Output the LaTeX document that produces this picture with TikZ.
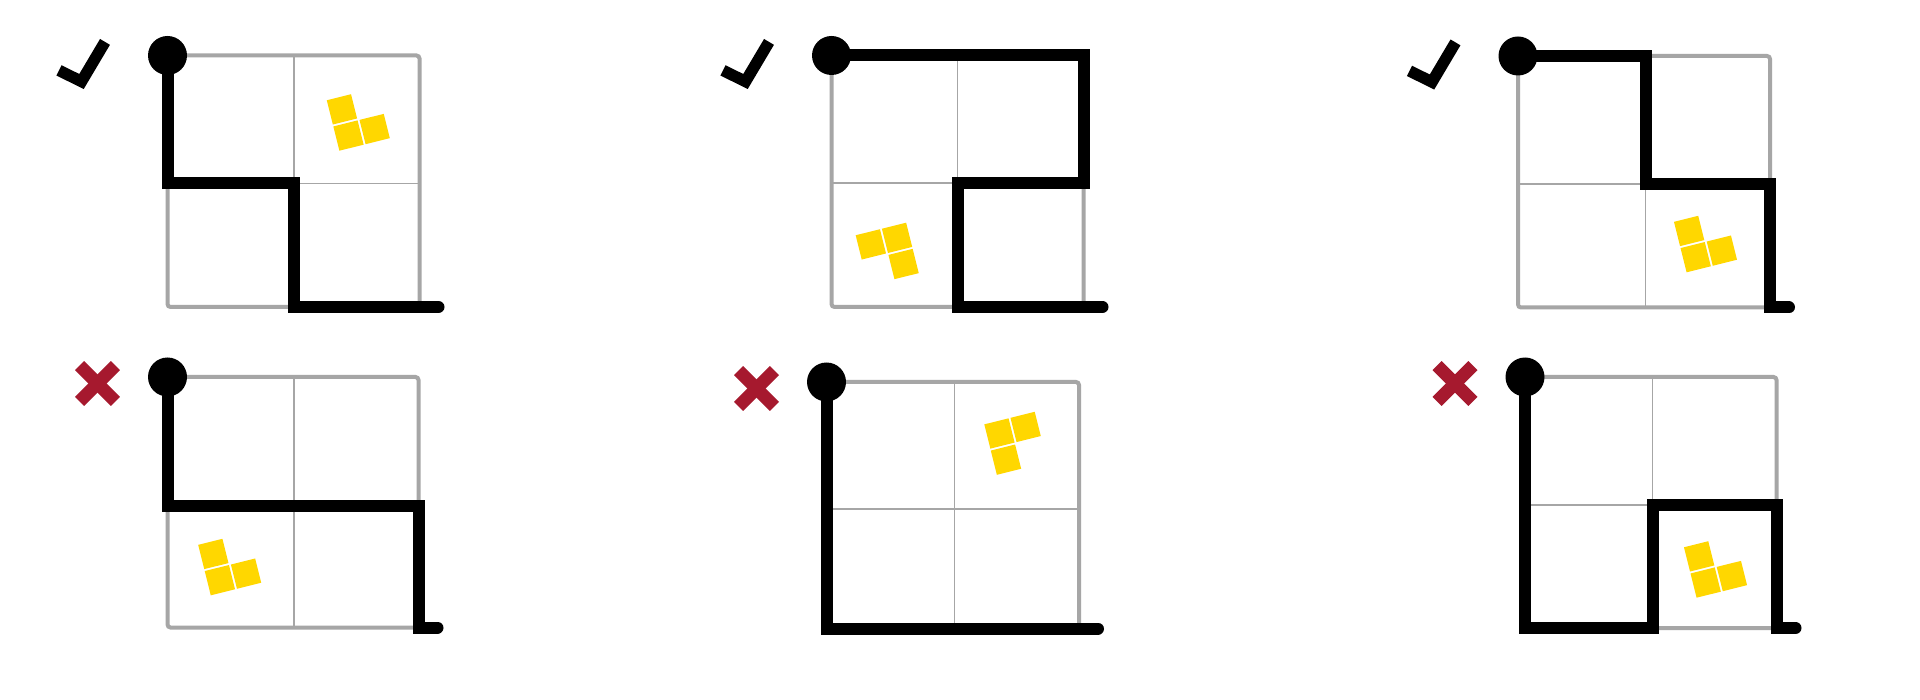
\documentclass[tikz,border=0pt]{standalone}
\usetikzlibrary{calc}
\definecolor{gridgray}{RGB}{166,166,166}
\definecolor{tromyellow}{RGB}{255,215,0}
\definecolor{crossred}{RGB}{166,25,46}
\newcommand\mkpanel[7]{%
  \coordinate (#1-00) at (#2,#5);
  \coordinate (#1-10) at (#3,#5);
  \coordinate (#1-20) at (#4,#5);
  \coordinate (#1-01) at (#2,#6);
  \coordinate (#1-11) at (#3,#6);
  \coordinate (#1-21) at (#4,#6);
  \coordinate (#1-02) at (#2,#7);
  \coordinate (#1-12) at (#3,#7);
  \coordinate (#1-22) at (#4,#7);
  \coordinate (#1-e) at ($(#1-22)+(19,0)$);
  \draw[gridin] (#1-10) -- (#1-12);
  \draw[gridin] (#1-01) -- (#1-21);
  \draw[gridout] (#1-00) rectangle (#1-22);
}
\newcommand\tromino[2]{%
  \begin{scope}[shift={#1},rotate=14]
    \foreach \i/\j in {#2} {\fill[tromfill] ({-26+27*\i},{-26+27*\j}) rectangle ++(25,25);}
  \end{scope}}
\newcommand\okmark[1]{%
  \draw[okstyle] ($(#1)+(-108.5,14.9)$) -- ($(#1)+(-86,26)$) -- ($(#1)+(-62.5,-13.6)$);}
\newcommand\nomark[1]{%
  \draw[nostyle] ($(#1)+(-87.9,-11.4)$) -- ($(#1)+(-52.1,24.4)$);
  \draw[nostyle] ($(#1)+(-87.9,24.4)$) -- ($(#1)+(-52.1,-11.4)$);}
\begin{document}
\begin{tikzpicture}[x=1pt,y=-1pt,
  gridin/.style={draw=gridgray,line width=1.6pt},
  gridout/.style={draw=gridgray,line width=4pt,rounded corners=3pt},
  walk/.style={draw=black,line width=12pt,line join=miter,line cap=round},
  startdot/.style={circle,fill=black,minimum size=39pt,inner sep=0pt},
  tromfill/.style={fill=tromyellow},
  okstyle/.style={draw=black,line width=11.5pt,line join=miter,line cap=butt},
  nostyle/.style={draw=crossred,line width=13pt,line cap=butt}]
\useasboundingbox[fill=white] (0,0) rectangle (1920,700);

% panels
\mkpanel{p1}{167.5}{294}{419.5}{55.5}{183.5}{307}
\mkpanel{p2}{831.5}{957.5}{1083.5}{55.5}{183}{307}
\mkpanel{p3}{1518}{1645.5}{1770}{56}{184}{307.5}
\mkpanel{p4}{167.5}{294}{418.5}{377}{505.5}{627.5}
\mkpanel{p5}{826.5}{954.5}{1079}{382}{509}{628.5}
\mkpanel{p6}{1525}{1652.5}{1776.5}{377}{505}{628}

% trominoes
\tromino{(358.3,119.2)}{0/0,0/1,1/1}
\tromino{(887.2,254.2)}{0/0,1/0,1/1}
\tromino{(1705.5,240.8)}{0/0,0/1,1/1}
\tromino{(229.7,563.8)}{0/0,0/1,1/1}
\tromino{(1015.8,443.3)}{0/0,1/0,0/1}
\tromino{(1715.5,566.2)}{0/0,0/1,1/1}

% walks
\draw[walk] (p1-00) -- (p1-01) -- (p1-11) -- (p1-12) -- (p1-22) -- (p1-e);
\draw[walk] (p2-00) -- (p2-20) -- (p2-21) -- (p2-11) -- (p2-12) -- (p2-22) -- (p2-e);
\draw[walk] (p3-00) -- (p3-10) -- (p3-11) -- (p3-21) -- (p3-22) -- (p3-e);
\draw[walk] (p4-00) -- (p4-01) -- (p4-21) -- (p4-22) -- (p4-e);
\draw[walk] (p5-00) -- (p5-02) -- (p5-22) -- (p5-e);
\draw[walk] (p6-00) -- (p6-02) -- (p6-12) -- (p6-11) -- (p6-21) -- (p6-22) -- (p6-e);

% start dots
\node[startdot] (s1) at (p1-00) {};
\node[startdot] (s2) at (p2-00) {};
\node[startdot] (s3) at (p3-00) {};
\node[startdot] (s4) at (p4-00) {};
\node[startdot] (s5) at (p5-00) {};
\node[startdot] (s6) at (p6-00) {};

% verdict marks
\okmark{p1-00}
\okmark{p2-00}
\okmark{p3-00}
\nomark{p4-00}
\nomark{p5-00}
\nomark{p6-00}
\end{tikzpicture}
\end{document}
